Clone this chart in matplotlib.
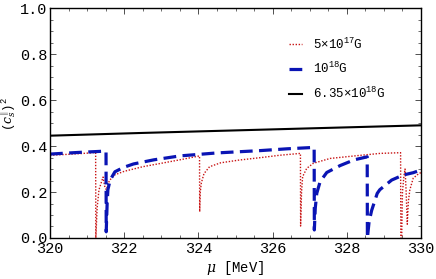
import numpy as np
import matplotlib
matplotlib.use('Agg')
import matplotlib.pyplot as plt
from matplotlib.ticker import MultipleLocator

plt.rcParams['font.family'] = ['Liberation Mono', 'DejaVu Sans Mono']
plt.rcParams['mathtext.fontset'] = 'custom'
plt.rcParams['mathtext.rm'] = 'Liberation Mono'
plt.rcParams['mathtext.it'] = 'DejaVu Serif:italic'

# 5x10^17 G (rojo punteado)
mu_red = [320, 320.5, 321, 321.23, 321.235, 321.27, 321.32, 321.43, 321.48, 321.52,
          321.6, 321.75, 322.0, 322.5, 323.0, 323.5, 324.03, 324.035, 324.05, 324.08,
          324.15, 324.3, 324.6, 325.1, 325.7, 326.2, 326.75, 326.755, 326.78, 326.81,
          326.92, 327.1, 327.55, 328.27, 328.9, 329.45, 329.455, 329.48, 329.5, 329.54,
          329.57, 329.6, 329.63, 329.66, 329.7, 329.79, 329.9, 330]
cs_red = [0.36, 0.364, 0.369, 0.372, 0.0, 0.13, 0.21, 0.265, 0.22, 0.21,
          0.25, 0.275, 0.29, 0.31, 0.325, 0.34, 0.357, 0.114, 0.2, 0.24,
          0.28, 0.31, 0.327, 0.339, 0.35, 0.36, 0.368, 0.052, 0.2, 0.267,
          0.303, 0.325, 0.346, 0.358, 0.368, 0.371, 0.0, 0.0, 0.2, 0.27,
          0.3, 0.2, 0.06, 0.16, 0.21, 0.26, 0.275, 0.285]

# 10^18 G (azul discontinuo)
mu_blue = [320, 320.75, 321.51, 321.515, 321.54, 321.56, 321.62, 321.75, 321.98, 322.25,
           322.8, 323.5, 324.5, 325.66, 326.4, 327.12, 327.125, 327.15, 327.19, 327.28,
           327.46, 327.82, 328.2, 328.55, 328.555, 328.6, 328.67, 328.82, 328.89, 329.21,
           329.52, 329.79, 330]
cs_blue = [0.365, 0.372, 0.378, 0.027, 0.15, 0.21, 0.252, 0.288, 0.307, 0.322,
           0.34, 0.357, 0.37, 0.38, 0.388, 0.394, 0.035, 0.13, 0.194, 0.245,
           0.285, 0.315, 0.34, 0.353, 0.0, 0.07, 0.12, 0.194, 0.21, 0.252,
           0.274, 0.284, 0.296]

# 6.35x10^18 G (negro)
mu_black = [320, 322.5, 325, 327.5, 330]
cs_black = [0.445, 0.457, 0.468, 0.479, 0.49]

fig = plt.figure(figsize=(4.36, 2.79), dpi=100)
ax = fig.add_axes([0.1147, 0.147, 0.8509, 0.824])

ax.plot(mu_red, cs_red, color='#c81414', lw=1.0, ls=(0, (1, 1.2)), label=r'5$\times$10$^{17}$G')
ax.plot(mu_blue, cs_blue, color='#0a14b4', lw=2.3, ls=(0, (4, 2)), label=r'10$^{18}$G')
ax.plot(mu_black, cs_black, color='black', lw=1.5, label=r'6.35$\times$10$^{18}$G')

ax.set_xlim(320, 330)
ax.set_ylim(0, 1)
ax.xaxis.set_major_locator(MultipleLocator(2))
ax.xaxis.set_minor_locator(MultipleLocator(0.5))
ax.yaxis.set_major_locator(MultipleLocator(0.2))
ax.yaxis.set_minor_locator(MultipleLocator(0.05))
ax.yaxis.set_major_formatter(plt.FuncFormatter(lambda v, p: '%.1f' % v))
ax.tick_params(which='both', direction='in', top=True, right=True, labelsize=11, colors='#333333')
ax.tick_params(which='major', length=4, width=0.6)
ax.tick_params(which='minor', length=2, width=0.5)
ax.tick_params(axis='x', pad=3)
ax.tick_params(axis='y', pad=2)
for t in ax.get_xticklabels() + ax.get_yticklabels():
    t.set_color('black')
for s in ax.spines.values():
    s.set_linewidth(1.0)

ax.set_xlabel(r'$\mu$ [MeV]', fontsize=10, labelpad=2)
ax.set_ylabel(r'$(c_s^{\Vert})^2$', fontsize=9)
ax.yaxis.set_label_coords(-0.085, 0.54)

ax.legend(loc='upper left', bbox_to_anchor=(0.615, 0.925), frameon=False, fontsize=9,
          handlelength=1.0, handletextpad=0.9, labelspacing=0.75)

fig.savefig('out.png', dpi=100)
